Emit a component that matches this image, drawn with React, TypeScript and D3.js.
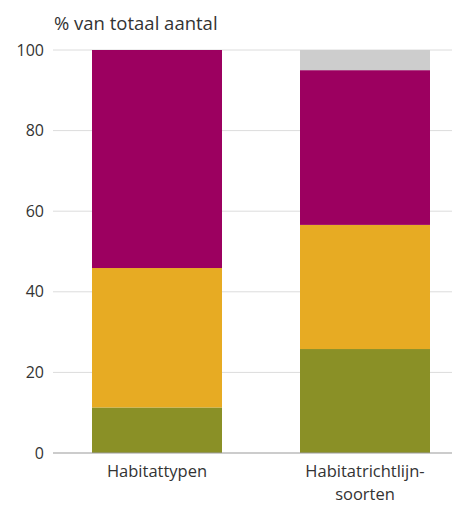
import { useEffect, useRef } from "react";
import * as d3 from "d3";

const categories = ["Habitattypen", "Habitatrichtlijn-soorten"];
const categoryLines = [["Habitattypen"], ["Habitatrichtlijn-", "soorten"]];
const seriesKeys = ["groen", "oranje", "paars", "grijs"];
const groen = [11.3, 25.8];
const oranje = [34.6, 30.8];
const paars = [54.1, 38.4];
const grijs = [0, 5];
const yTicks = [0, 20, 40, 60, 80, 100];
const colors = ["#8a9026", "#e7ab23", "#9c0060", "#cdcdcd"];

const W = 452;
const H = 506;
const margin = { top: 50, bottom: 53, left: 53 };

export default function App() {
  const svgRef = useRef<SVGSVGElement | null>(null);

  useEffect(() => {
    if (!svgRef.current) return;
    const svg = d3.select(svgRef.current);
    svg.selectAll("*").remove();

    const rows = categories.map((c, i) => ({
      cat: c,
      groen: groen[i],
      oranje: oranje[i],
      paars: paars[i],
      grijs: grijs[i],
    }));

    // bars ~130px wide with a 78px gap; right padding runs past the svg edge
    const x = d3
      .scaleBand()
      .domain(categories)
      .range([margin.left, 469])
      .paddingInner(0.375)
      .paddingOuter(0.1875);
    const y = d3.scaleLinear().domain([0, 100]).range([H - margin.bottom, margin.top]);

    const font = "'Open Sans', 'DejaVu Sans', sans-serif";

    // grid
    svg
      .append("g")
      .selectAll("line")
      .data(yTicks.filter((t) => t > 0))
      .join("line")
      .attr("x1", margin.left)
      .attr("x2", W)
      .attr("y1", (d) => y(d))
      .attr("y2", (d) => y(d))
      .attr("stroke", "#dcdcdc")
      .attr("stroke-width", 1);

    svg
      .append("g")
      .selectAll("text")
      .data(yTicks)
      .join("text")
      .attr("x", 44)
      .attr("y", (d) => y(d))
      .attr("dy", "0.35em")
      .attr("text-anchor", "end")
      .style("font-family", font)
      .style("font-size", "16px")
      .style("fill", "#333")
      .text((d) => d);

    const stack = d3.stack<any>().keys(seriesKeys);
    const layers = stack(rows);

    svg
      .append("g")
      .selectAll("g")
      .data(layers)
      .join("g")
      .attr("fill", (_d, i) => colors[i])
      .selectAll("rect")
      .data((d) => d)
      .join("rect")
      .attr("x", (d: any) => x(d.data.cat) as number)
      .attr("width", x.bandwidth())
      .attr("y", (d) => y(d[1]))
      .attr("height", (d) => y(d[0]) - y(d[1]));

    // baseline
    svg
      .append("line")
      .attr("x1", margin.left)
      .attr("x2", W)
      .attr("y1", y(0))
      .attr("y2", y(0))
      .attr("stroke", "#999")
      .attr("stroke-width", 1.2);

    // category labels
    const lab = svg
      .append("g")
      .selectAll("text")
      .data(categories)
      .join("text")
      .attr("x", (d) => (x(d) as number) + x.bandwidth() / 2)
      .attr("y", y(0) + 24)
      .attr("text-anchor", "middle")
      .style("font-family", font)
      .style("font-size", "16.5px")
      .style("fill", "#333");
    lab
      .selectAll("tspan")
      .data((_d, i) => categoryLines[i])
      .join("tspan")
      .attr("x", function () {
        return (this.parentNode as SVGTextElement).getAttribute("x");
      })
      .attr("dy", (_d, i) => (i === 0 ? 0 : 23))
      .text((d) => d);

    svg
      .append("text")
      .attr("x", 54)
      .attr("y", 30)
      .style("font-family", font)
      .style("font-size", "18.5px")
      .style("fill", "#333")
      .text("% van totaal aantal");
  }, []);

  return (
    <div style={{ position: "absolute", left: 0, top: 0 }}>
      <svg ref={svgRef} width={W} height={H} style={{ display: "block", background: "#fff" }} />
    </div>
  );
}
